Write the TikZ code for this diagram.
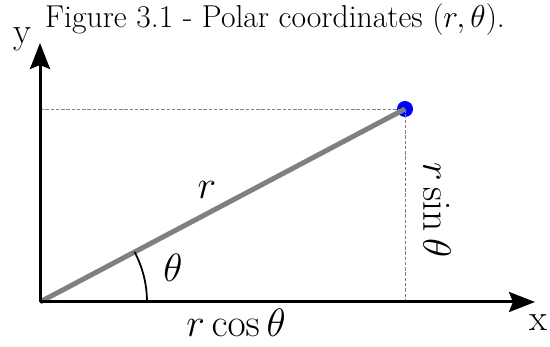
\RequirePackage{fix-cm}
\documentclass[tikz,border=0pt]{standalone}
\usepackage{tikz}
\usetikzlibrary{arrows.meta,positioning}
\usepackage{amsmath}
\definecolor{linegray}{HTML}{808080}
\definecolor{point}{HTML}{0000FF}

\begin{document}
\begin{tikzpicture}
  \useasboundingbox (0,0) rectangle (11,6.94);
  \tikzset{
    axis/.style={-{Stealth[length=0.52cm,width=0.4cm,inset=0.08cm]},line width=0.06cm},
    guide/.style={gray,line width=0.4pt,dash pattern=on 2pt off 1pt},
    biglabel/.style={font=\fontsize{22.5}{25}\selectfont}
  }
  \node[font=\fontsize{18}{20}\selectfont,anchor=north,inner sep=0pt] (title) at (5.5,6.87) {Figure 3.1 - Polar coordinates $(r,\theta)$.};

  \coordinate (origin) at (0.8,0.9);
  \coordinate (xend) at (10.7,0.9);
  \coordinate (yend) at (0.8,6.08);
  \coordinate (xfoot) at (8.1,0.9);
  \coordinate (yfoot) at (0.8,4.76);
  \node[circle,fill=point,inner sep=0pt,minimum size=0.32cm] (pt) at (8.1,4.76) {};

  % projections
  \draw[guide] (yfoot) -- (pt.center);
  \draw[guide] (pt.center) -- (xfoot);

  % radius and angle
  \draw[linegray,line width=0.1cm] (origin) -- (pt.center);
  \draw[line width=1pt] ([shift={(0:2.14)}]origin) arc (0:27.9:2.14);

  % axes
  \draw[axis] (origin) -- (xend);
  \draw[axis] (origin) -- (yend);

  \node[font=\fontsize{21}{23}\selectfont] (ylabel) at (0.44,6.16) {y};
  \node[font=\fontsize{21}{23}\selectfont] (xlabel) at (10.76,0.48) {x};
  \node[biglabel] (rlabel) at (4.14,3.14) {$r$};
  \node[biglabel] (thlabel) at (3.46,1.58) {$\theta$};
  \node[biglabel] (cosl) at (4.72,0.48) {$r\cos\theta$};
  \node[biglabel,rotate=-90] (sinl) at (8.74,2.74) {$r\sin\theta$};
\end{tikzpicture}
\end{document}
